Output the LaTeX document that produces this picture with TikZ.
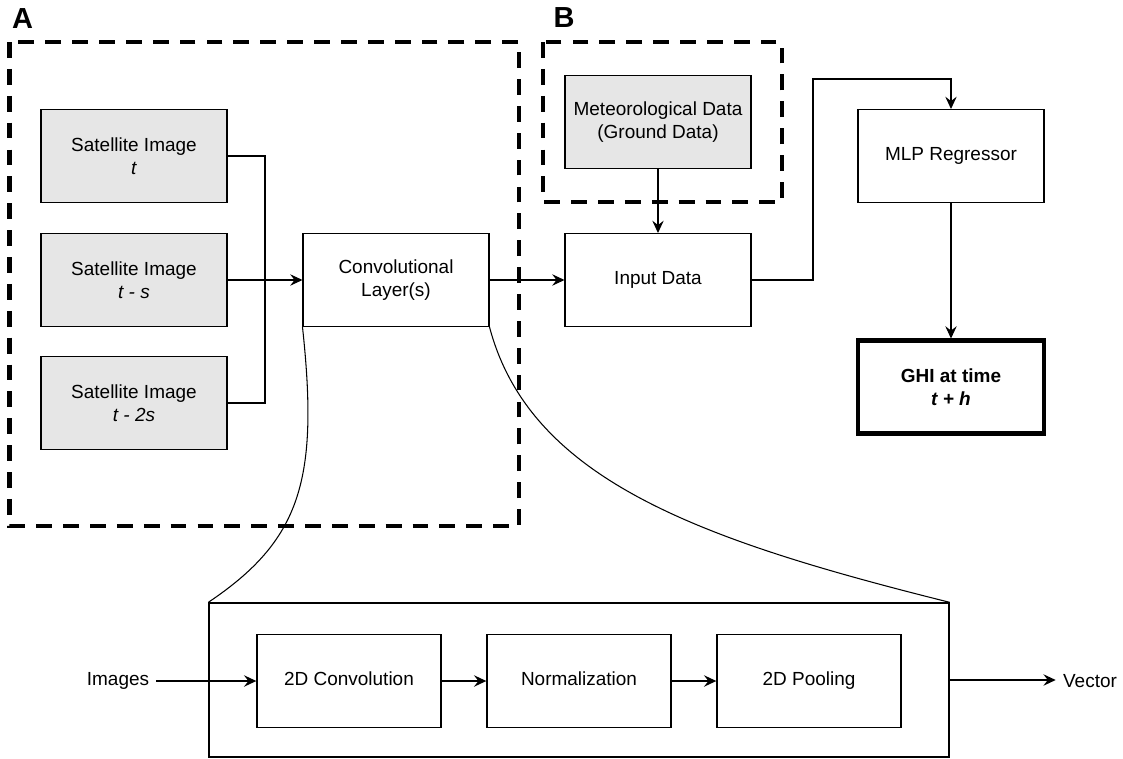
\documentclass[tikz,border=0pt]{standalone}
\usepackage{fontspec}
\setmainfont{Liberation Sans}
\usetikzlibrary{arrows.meta}
\definecolor{boxgray}{HTML}{E6E6E6}

\begin{document}
\begin{tikzpicture}[x=0.02cm,y=-0.02cm,
  font=\fontsize{10.8}{13}\selectfont,
  box/.style={draw,line width=0.6pt,minimum width=3.72cm,minimum height=1.86cm,align=center,inner sep=1pt},
  gbox/.style={box,fill=boxgray},
  lowbox/.style={box,line width=0.8pt,minimum width=3.68cm,execute at begin node=\strut},
  frame/.style={line width=2.3pt,dash pattern=on 9pt off 6.3pt},
  conn/.style={line width=0.6pt},
  arr/.style={conn,-{Stealth[length=7pt,width=6.5pt,inset=2.5pt]}},
  lowarr/.style={arr,line width=0.8pt},
  lbl/.style={font=\fontsize{16.5}{18}\selectfont\bfseries,inner sep=0pt}]
\useasboundingbox (0,0) rectangle (1123,758);

% part A and part B
\draw[frame] (9.5,42) rectangle (519,526);
\draw[frame] (543,42) rectangle (782,202);
\node[lbl] (labA) at (22.5,19) {A};
\node[lbl] (labB) at (564,18) {B};

\node[gbox] (sat1) at (134,156) {Satellite Image\\\textit{t}};
\node[gbox] (sat2) at (134,280) {Satellite Image\\\textit{t - s}};
\node[gbox] (sat3) at (134,403) {Satellite Image\\\textit{t - 2s}};
\node[box] (conv) at (396,280) {Convolutional\\Layer(s)};
\node[gbox] (met) at (658,122) {Meteorological Data\\(Ground Data)};
\node[box] (inp) at (658,280) {Input Data};
\node[box] (mlp) at (951,156) {MLP Regressor};
\node[box,line width=2.3pt,font=\fontsize{10.8}{13}\selectfont\bfseries] (ghi) at (951,387) {GHI at time\\\textit{t + h}};

\coordinate (join) at (265,280);
\draw[conn] (sat1.east) -| (join);
\draw[conn] (sat3.east) -| (join);
\draw[arr] (sat2.east) -- (conv.west);
\draw[arr] (conv.east) -- (inp.west);
\draw[arr] (met.south) -- (inp.north);
\coordinate (bend) at (813,79);
\draw[arr] (inp.east) -| (bend) -| (mlp.north);
\draw[arr] (mlp.south) -- (ghi.north);

% inside the convolutional layer
\node[draw,line width=0.8pt,minimum width=14.8cm,minimum height=3.08cm] (detail) at (579,680) {};
\draw[conn] (conv.south west) .. controls (319,480) and (301,540) .. (detail.north west);
\draw[conn] (conv.south east) .. controls (530,480) and (700,540) .. (detail.north east);

\node[lowbox] (conv2d) at (349,681) {2D Convolution};
\node[lowbox] (norm) at (579,681) {Normalization};
\node[lowbox] (pool) at (809,681) {2D Pooling};
\node[inner sep=4pt] (imgs) at (118,681) {Images};
\node[inner sep=4pt] (vec) at (1090,681) {Vector};
\draw[lowarr] (imgs) -- (conv2d);
\draw[lowarr] (conv2d) -- (norm);
\draw[lowarr] (norm) -- (pool);
\draw[lowarr] (detail.east) -- (detail.east -| vec.west);
\end{tikzpicture}
\end{document}
